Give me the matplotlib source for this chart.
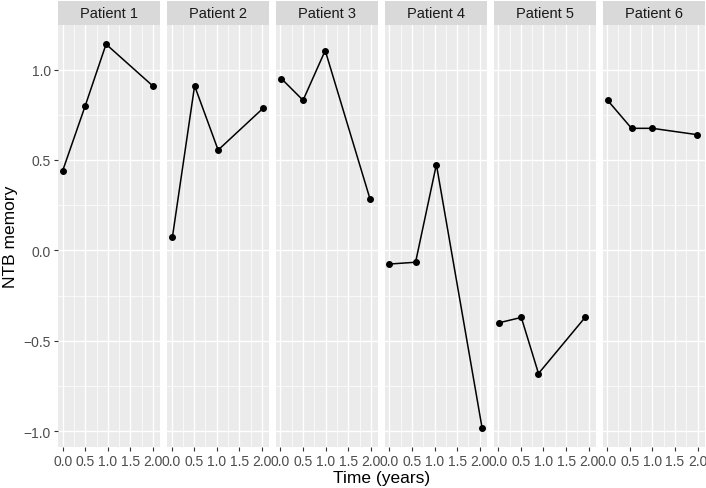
import matplotlib.pyplot as plt
import numpy as np

plt.rcParams['font.family'] = ['Liberation Sans', 'DejaVu Sans']

patients = ["Patient 1", "Patient 2", "Patient 3", "Patient 4", "Patient 5", "Patient 6"]
times = [
    [0.0, 0.5, 0.96, 1.99],
    [0.02, 0.51, 1.03, 2.02],
    [0.02, 0.5, 0.99, 1.98],
    [0.0, 0.58, 1.04, 2.05],
    [0.01, 0.51, 0.89, 1.92],
    [0.01, 0.54, 1.0, 1.99],
]
memory = [
    [0.44, 0.80, 1.14, 0.91],
    [0.075, 0.91, 0.555, 0.785],
    [0.95, 0.83, 1.105, 0.285],
    [-0.075, -0.065, 0.475, -0.98],
    [-0.40, -0.37, -0.68, -0.37],
    [0.83, 0.675, 0.675, 0.64],
]
x_ticks = [0.0, 0.5, 1.0, 1.5, 2.0]
y_ticks = [-1.0, -0.5, 0.0, 0.5, 1.0]

W, H = 706, 489
fig = plt.figure(figsize=(W / 100, H / 100), dpi=100)

# limits with ggplot style 5% expansion
allx = np.concatenate([np.array(t) for t in times])
ally = np.concatenate([np.array(m) for m in memory])
dx = (allx.max() - allx.min()) * 0.05
dy = (ally.max() - ally.min()) * 0.05
xlim = (allx.min() - dx, allx.max() + dx)
ylim = (ally.min() - dy, ally.max() + dy)

left0 = 58 / W
pw = 102 / W
step = 108.9 / W
bottom = 1 - 448 / H
top = 1 - 26 / H
strip_h = 24 / H

grey30 = '#4D4D4D'
for i, name in enumerate(patients):
    x0 = left0 + i * step
    ax = fig.add_axes([x0, bottom, pw, top - bottom])
    ax.set_facecolor('#EBEBEB')
    ax.set_xlim(xlim)
    ax.set_ylim(ylim)
    ax.set_xticks(x_ticks)
    ax.set_xticklabels(["%.1f" % v for v in x_ticks])
    ax.set_xticks([0.25, 0.75, 1.25, 1.75], minor=True)
    ax.set_yticks(y_ticks)
    ax.set_yticks([-0.75, -0.25, 0.25, 0.75], minor=True)
    ax.grid(True, which='major', color='white', linewidth=1.0)
    ax.grid(True, which='minor', color='white', linewidth=0.5)
    ax.set_axisbelow(True)
    for s in ax.spines.values():
        s.set_visible(False)
    ax.tick_params(axis='both', which='minor', length=0)
    ax.tick_params(axis='both', which='major', length=3, width=0.8, color='#333333',
                   labelsize=10, labelcolor=grey30, pad=2)
    if i == 0:
        ax.set_yticklabels(["\u22121.0", "\u22120.5", "0.0", "0.5", "1.0"])
    else:
        ax.tick_params(axis='y', which='major', length=0, labelleft=False)
    ax.plot(times[i], memory[i], color='black', linewidth=1.1)
    ax.plot(times[i], memory[i], 'o', color='black', markersize=4)

    sax = fig.add_axes([x0, top, pw, strip_h])
    sax.set_facecolor('#D9D9D9')
    sax.set_xticks([])
    sax.set_yticks([])
    for s in sax.spines.values():
        s.set_visible(False)
    sax.text(0.5, 0.5, name, ha='center', va='center', fontsize=10.5,
             color='#1A1A1A', transform=sax.transAxes)

fig.text((58 + 58 + 5 * 108.9 + 102) / 2 / W, 1 - 479 / H, "Time (years)", ha='center',
         va='center', fontsize=12.5)
fig.text(11 / W, (bottom + top) / 2, "NTB memory", ha='center', va='center',
         rotation=90, fontsize=12.5)

fig.savefig('out.png', dpi=100)
